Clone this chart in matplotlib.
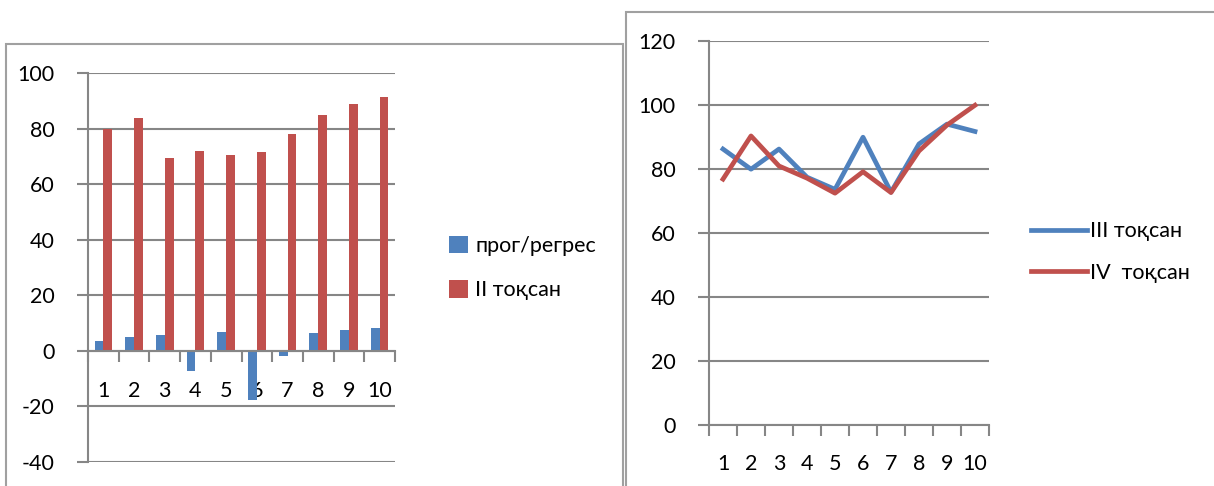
import numpy as np
import matplotlib.pyplot as plt
from matplotlib.patches import Rectangle

plt.rcParams['font.family'] = ['Lato', 'Noto Sans', 'DejaVu Sans']
plt.rcParams['axes.unicode_minus'] = False

# data
categories = [1, 2, 3, 4, 5, 6, 7, 8, 9, 10]
prog_regres = [3.6, 4.8, 5.5, -7.2, 6.9, -17.8, -1.9, 6.4, 7.6, 8.3]
q2 = [79.8, 83.8, 69.5, 72.0, 70.4, 71.5, 78.2, 85.1, 88.8, 91.6]
q3 = [86.3, 80.0, 86.3, 77.5, 73.7, 90.0, 72.8, 87.9, 94.1, 91.8]
q4 = [76.9, 90.4, 81.0, 77.2, 72.5, 79.2, 72.7, 85.7, 93.8, 100.0]

BLUE = "#4F81BD"
RED = "#C0504D"
GRID = "#868686"
FS = 15.5

W, H = 1214, 486
fig = plt.figure(figsize=(W / 100, H / 100), dpi=100)


def px_axes(x0, y0, x1, y1):
    # pixel box (top-left origin) -> figure axes
    return fig.add_axes([x0 / W, 1 - y1 / H, (x1 - x0) / W, (y1 - y0) / H])


def style_axes(ax):
    for s in ["top", "right"]:
        ax.spines[s].set_visible(False)
    for s in ["left", "bottom"]:
        ax.spines[s].set_color(GRID)
        ax.spines[s].set_linewidth(1.5)
    ax.yaxis.grid(True, color=GRID, linewidth=1.5)
    ax.set_axisbelow(True)
    ax.tick_params(axis="y", length=8, width=1.5, color=GRID, pad=16, labelsize=FS)
    ax.tick_params(axis="x", which="minor", length=8, width=1.5, color=GRID)
    ax.tick_params(axis="x", which="major", length=0, labelsize=FS)
    x = np.array(categories)
    ax.set_xticks(x)
    ax.set_xticks(np.append(x - 0.5, x[-1] + 0.5), minor=True)
    ax.set_xlim(0.5, 10.5)


# chart frames
fig.patches.append(Rectangle((6 / W, -0.1), 617 / W, 1.1 - 44 / H, transform=fig.transFigure,
                             fill=False, edgecolor="#A0A0A0", linewidth=1.5))
fig.patches.append(Rectangle((626 / W, -0.1), 700 / W, 1.1 - 12 / H, transform=fig.transFigure,
                             fill=False, edgecolor="#A0A0A0", linewidth=1.5))

# left: bar chart
ax1 = px_axes(88, 73.3, 395, 461.7)
style_axes(ax1)
x = np.array(categories)
bw = 0.286
ax1.bar(x - bw / 2, prog_regres, bw, color=BLUE, label="прог/регрес")
ax1.bar(x + bw / 2, q2, bw, color=RED, label="II тоқсан")
ax1.set_ylim(-40, 100)
ax1.set_yticks(range(-40, 101, 20))
ax1.spines["bottom"].set_position(("data", 0))
ax1.spines["left"].set_bounds(-40, 100)
ax1.tick_params(axis="x", which="major", pad=22)
ax1.legend(loc="center left", bbox_to_anchor=(430 / W, 1 - 268 / H), bbox_transform=fig.transFigure,
           frameon=False, fontsize=FS, handlelength=0.85, handleheight=0.85, handletextpad=0.35,
           labelspacing=1.15)

# right: line chart
ax2 = px_axes(709, 41.3, 989, 425)
style_axes(ax2)
ax2.plot(x, q3, color=BLUE, linewidth=3.4, label="III тоқсан")
ax2.plot(x, q4, color=RED, linewidth=3.4, label="IV  тоқсан")
ax2.set_ylim(0, 120)
ax2.set_yticks(range(0, 121, 20))
ax2.tick_params(axis="x", which="major", pad=21)
ax2.legend(loc="center left", bbox_to_anchor=(1012 / W, 1 - 252 / H), bbox_transform=fig.transFigure,
           frameon=False, fontsize=FS, handlelength=2.6, handletextpad=0.1, labelspacing=1.0)

fig.savefig("out.png", dpi=100)
